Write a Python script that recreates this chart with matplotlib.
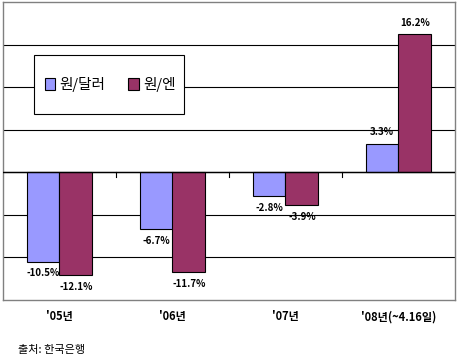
import matplotlib.pyplot as plt
import numpy as np
from matplotlib.patches import Rectangle

plt.rcParams['font.family'] = ['Noto Sans CJK KR', 'DejaVu Sans']

categories = ["'05년", "'06년", "'07년", "'08년(~4.16일)"]
series_names = ['원/달러', '원/엔']
won_dollar = [-10.5, -6.7, -2.8, 3.3]
won_yen = [-12.1, -11.7, -3.9, 16.2]
colors = ['#9999FF', '#993366']

fig = plt.figure(figsize=(4.58, 3.64), dpi=100)
ax = fig.add_axes([3 / 458, 64 / 364, 452 / 458, 298 / 364])

x = np.arange(len(categories))
w = 0.29
bars1 = ax.bar(x - w / 2, won_dollar, w, color=colors[0], edgecolor='black',
               linewidth=0.8, label=series_names[0], zorder=3)
bars2 = ax.bar(x + w / 2, won_yen, w, color=colors[1], edgecolor='black',
               linewidth=0.8, label=series_names[1], zorder=3)

# --- data labels ---
for bars, vals in ((bars1, won_dollar), (bars2, won_yen)):
    for b, v in zip(bars, vals):
        cx = b.get_x() + b.get_width() / 2
        off = 0.8 if v >= 0 else -0.8
        ax.text(cx, v + off, f'{v:.1f}%', ha='center',
                va='bottom' if v >= 0 else 'top', fontsize=7,
                fontweight='bold', zorder=4)

ax.set_xlim(-0.5, len(categories) - 0.5)
ax.set_ylim(-15, 20)
for yv in np.arange(-10, 20, 5):
    ax.axhline(yv, color='black', linewidth=0.8, zorder=1)

# category axis crossing at zero, with tick marks between groups
ax.axhline(0, color='black', linewidth=1.0, zorder=4)
for bx in np.arange(0.5, len(categories) - 0.5, 1):
    ax.plot([bx, bx], [0, -0.6], color='black', linewidth=0.8, zorder=4)

ax.set_xticks([])
ax.set_yticks([])
for s in ax.spines.values():
    s.set_color('#808080')
    s.set_linewidth(1.0)

for xi, lab in zip(x, categories):
    ax.text(xi, -16.2, lab, ha='center', va='top', fontsize=8,
            fontweight='bold', clip_on=False)

# --- legend box drawn by hand ---
ax.add_patch(Rectangle((0.0686, 0.624), 0.332, 0.198, transform=ax.transAxes,
                       facecolor='white', edgecolor='black', linewidth=0.8,
                       zorder=5))
leg = ax.legend(loc='center left', bbox_to_anchor=(0.092, 0.723), ncol=2,
                frameon=False, fontsize=10.5, borderpad=0, borderaxespad=0,
                handlelength=0.7, handleheight=0.9, handletextpad=0.3,
                columnspacing=1.6)
leg.set_zorder(6)

fig.text(18 / 458, 1 - 350 / 364, '출처: 한국은행', fontsize=8, va='center')

fig.savefig('out.png', dpi=100)
